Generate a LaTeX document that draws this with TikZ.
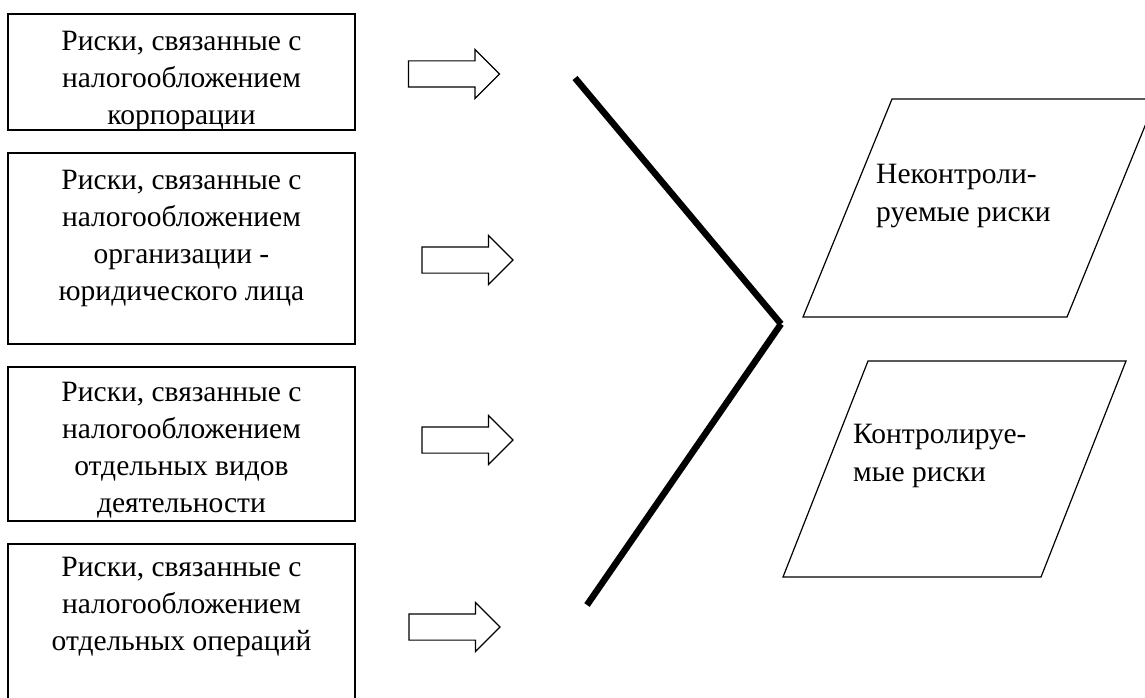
\documentclass[tikz,border=0pt]{standalone}
\usepackage{fontspec}
\setmainfont{Liberation Serif}
\usetikzlibrary{positioning, shapes.arrows}

\begin{document}
\begin{tikzpicture}[
                x = 1pt, y = -1pt, % grid of the scan
                thin line/.style = {line width = 1.2pt},
                heavy line/.style = {line width = 6.5pt},
                riskbox/.style = {draw, thin line, rectangle, minimum width = 347pt,
                    inner sep = 0pt},
                risktext/.style = {align = center, inner sep = 0pt,
                    font = \fontsize{29.5}{37}\selectfont},
                kindtext/.style = {align = left, inner sep = 0pt, anchor = west,
                    font = \fontsize{29.5}{38}\selectfont},
                blockarrow/.style = {draw, thin line, single arrow,
                    single arrow head extend = 11.5pt, single arrow head indent = 0pt,
                    inner xsep = 0pt, inner ysep = 12.5pt, minimum height = 91pt}
            ]

            \useasboundingbox (0,0) rectangle (1145,698);
            \clip (0,0) rectangle (1145,698);

            % left column of risk groups
            \node (box1) [riskbox, minimum height = 116pt] at (181.5,72) {};
            \node (box2) [riskbox, minimum height = 191pt] at (181.5,248.5) {};
            \node (box3) [riskbox, minimum height = 154pt] at (181.5,444) {};
            \node (box4) [riskbox, minimum height = 176pt] at (181.5,632) {};

            \node (txt1) [risktext, below = 18pt of box1.north]
            {Риски, связанные с\\налогообложением\\корпорации};
            \node (txt2) [risktext, below = 18pt of box2.north]
            {Риски, связанные с\\налогообложением\\организации -\\юридического лица};
            \node (txt3) [risktext, below = 16pt of box3.north]
            {Риски, связанные с\\налогообложением\\отдельных видов\\деятельности};
            \node (txt4) [risktext, below = 14pt of box4.north]
            {Риски, связанные с\\налогообложением\\отдельных операций};

            % block arrows
            \node (arr1) [blockarrow] at (447.5,74) {};
            \node (arr2) [blockarrow] at (461,260) {};
            \node (arr3) [blockarrow] at (461,440) {};
            \node (arr4) [blockarrow] at (448,627) {};

            % the bent bar
            \coordinate (bartop) at (575,78);
            \coordinate (barmid) at (781,324);
            \coordinate (barbot) at (587,605);
            \draw[heavy line] (bartop) -- (barmid);
            \draw[heavy line] (barmid) -- (barbot);

            % two kinds of risk
            \draw[thin line] (803,317) -- (1067,317) -- (1156,99) -- (892,99) -- cycle;
            \draw[thin line] (783,577) -- (1041,577) -- (1126,361) -- (868,361) -- cycle;

            \node (kind1) [kindtext] at (876,196) {Неконтроли-\\руемые риски};
            \node (kind2) [kindtext] at (853,456) {Контролируе-\\мые риски};

        \end{tikzpicture}
\end{document}
